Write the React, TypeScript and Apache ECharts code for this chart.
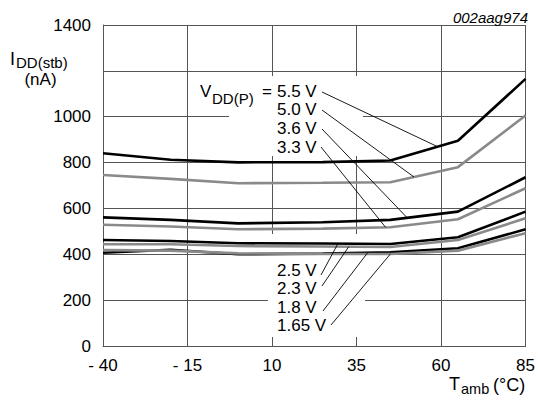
import React, { useEffect, useRef } from "react";
import * as echarts from "echarts";

const temps = [-40, -20, 0, 25, 45, 65, 85];
const vdd55 = [841, 812, 801, 802, 809, 895, 1165];
const vdd50 = [746, 729, 710, 712, 714, 780, 1005];
const vdd36 = [561, 550, 535, 540, 550, 586, 736];
const vdd33 = [529, 521, 509, 512, 518, 553, 688];
const vdd25 = [462, 458, 448, 447, 445, 474, 586];
const vdd23 = [444, 444, 436, 434, 432, 462, 557];
const vdd18 = [407, 420, 400, 403, 409, 426, 509];
const vdd165 = [418, 416, 404, 402, 401, 416, 492];

const seriesNames = ["5.5 V", "5.0 V", "3.6 V", "3.3 V", "2.5 V", "2.3 V", "1.8 V", "1.65 V"];
const seriesValues = [vdd55, vdd50, vdd36, vdd33, vdd25, vdd23, vdd18, vdd165];
const seriesColors = ["#000000", "#8a8a8a", "#000000", "#8a8a8a", "#000000", "#8a8a8a", "#000000", "#8a8a8a"];

// temperature where each label's leader line touches its curve
const leaderTemps = [59, 52, 50, 43.6, 29.5, 32.7, 38.3, 45];

const X_OFFSET = 40; // x axis runs 0..125 so ticks fall on -40, -15, 10, 35, 60, 85
const FONT = "'Liberation Sans', Arial, sans-serif";

function interp(xs: number[], ys: number[], x: number) {
  for (let i = 0; i < xs.length - 1; i++) {
    if (x >= xs[i] && x <= xs[i + 1]) {
      const t = (x - xs[i]) / (xs[i + 1] - xs[i]);
      return ys[i] + t * (ys[i + 1] - ys[i]);
    }
  }
  return ys[ys.length - 1];
}

export default function App() {
  const ref = useRef<HTMLDivElement>(null);
  useEffect(() => {
    if (!ref.current) return;
    const chart = echarts.init(ref.current, null, { renderer: "svg" });
    const option: any = {
      animation: false,
      backgroundColor: "#ffffff",
      grid: { left: 103, right: 9, top: 25, bottom: 55 },
      xAxis: {
        type: "value",
        min: 0,
        max: 125,
        interval: 25,
        axisLine: { lineStyle: { color: "#555", width: 1 } },
        axisTick: { show: false },
        splitLine: { show: true, lineStyle: { color: "#555", width: 1 } },
        axisLabel: {
          color: "#000",
          fontSize: 17,
          fontFamily: FONT,
          margin: 11,
          formatter: (v: number) => {
            const t = v - X_OFFSET;
            return t < 0 ? "- " + Math.abs(t) : String(t);
          },
        },
      },
      yAxis: {
        type: "value",
        min: 0,
        max: 1400,
        interval: 200,
        axisLine: { show: true, lineStyle: { color: "#555", width: 1 } },
        axisTick: { show: false },
        splitLine: { show: true, lineStyle: { color: "#555", width: 1 } },
        axisLabel: {
          color: "#000",
          fontSize: 17,
          fontFamily: FONT,
          margin: 12,
          formatter: (v: number) => (v === 1200 ? "" : String(v)),
        },
      },
      series: seriesValues.map((vals, i) => ({
        type: "line",
        name: seriesNames[i],
        symbol: "none",
        z: 3,
        lineStyle: { color: seriesColors[i], width: 2.6 },
        data: vals.map((v, j) => [temps[j] + X_OFFSET, v]),
      })),
    };
    chart.setOption(option);

    const txt = (text: string, x: number, y: number, size: number, align = "left", extra: any = {}) => ({
      type: "text",
      x,
      y,
      z: 20,
      style: {
        text,
        fill: "#000",
        fontSize: size,
        fontFamily: FONT,
        align,
        verticalAlign: "middle",
        ...extra,
      },
    });

    const topStarts = [
      [322, 92],
      [322, 110],
      [322, 129],
      [321, 147],
    ];
    const botStarts = [
      [321, 275],
      [322, 286],
      [323, 311],
      [331, 325],
    ];
    const starts = [...topStarts, ...botStarts];
    const leaders = seriesValues.map((vals, i) => {
      const T = leaderTemps[i];
      const v = interp(temps, vals, T);
      const p = chart.convertToPixel({ gridIndex: 0 }, [T + X_OFFSET, v]) as number[];
      return {
        type: "line",
        z: 20,
        shape: { x1: starts[i][0], y1: starts[i][1], x2: p[0], y2: p[1] },
        style: { stroke: "#000", lineWidth: 0.9 },
      };
    });

    const topY = [91, 109.5, 128, 147];
    const botY = [270, 288.5, 307, 325.5];

    const graphic: any[] = [
      // white panels behind the labels
      { type: "rect", z: 1, shape: { x: 196, y: 76, width: 167, height: 28 }, style: { fill: "#fff" } },
      { type: "rect", z: 1, shape: { x: 229, y: 76, width: 134, height: 80 }, style: { fill: "#fff" } },
      { type: "rect", z: 1, shape: { x: 268, y: 234, width: 97, height: 103 }, style: { fill: "#fff" } },
      // y axis title
      txt("I", 10, 58.5, 18),
      txt("DD(stb)", 16, 62, 15),
      txt("(nA)", 40.5, 79.5, 17, "center"),
      // x axis title
      txt("T", 449, 383.5, 18),
      txt("amb", 461, 389, 14.5),
      txt("(°C)", 493, 385, 18),
      // figure code
      txt("002aag974", 528, 17, 15, "right", { fontStyle: "italic" }),
      // label block
      txt("V", 200, 91, 17),
      txt("DD(P)", 212, 98.5, 15),
      txt("=", 262, 91, 17),
      ...seriesNames.slice(0, 4).map((s, i) => txt(s, 277, topY[i], 17)),
      ...seriesNames.slice(4).map((s, i) => txt(s, 277, botY[i], 17)),
      ...leaders,
    ];
    chart.setOption({ graphic });
    return () => chart.dispose();
  }, []);
  return (
    <div
      ref={ref}
      style={{ position: "fixed", left: 0, top: 0, width: 538, height: 401, background: "#fff" }}
    />
  );
}
